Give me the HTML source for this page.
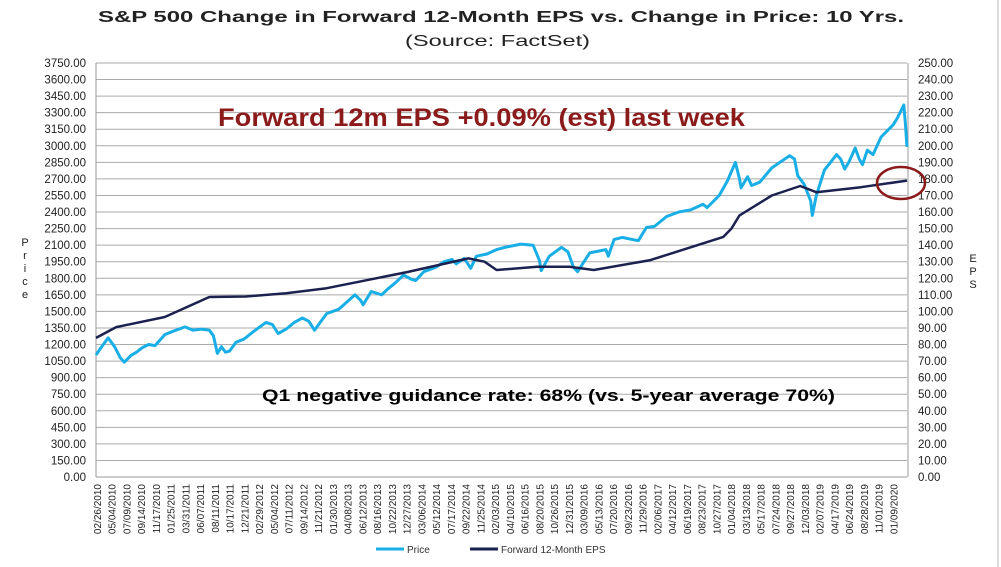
<!DOCTYPE html>
<html><head><meta charset="utf-8"><style>
body{margin:0;background:#fff;font-family:"Liberation Sans",sans-serif}
svg{display:block}
</style></head><body>
<svg id="c" width="1001" height="567" xmlns="http://www.w3.org/2000/svg">
<text x="98" y="22" textLength="806" lengthAdjust="spacingAndGlyphs" font-size="16" font-weight="bold" fill="#222">S&amp;P 500 Change in Forward 12-Month EPS vs. Change in Price: 10 Yrs.</text>
<text x="405" y="46" textLength="185" lengthAdjust="spacingAndGlyphs" font-size="16" fill="#222">(Source: FactSet)</text>
<line x1="998" y1="0" x2="998" y2="567" stroke="#bbb"/>
<g id="grid"></g>
<g id="axes"></g>
<g id="series"></g>
<text x="218" y="126" textLength="527" lengthAdjust="spacingAndGlyphs" font-size="25" font-weight="bold" fill="#8b1a1a">Forward 12m EPS +0.09% (est) last week</text>
<text x="262" y="401" textLength="573" lengthAdjust="spacingAndGlyphs" font-size="17" font-weight="bold" fill="#000">Q1 negative guidance rate: 68% (vs. 5-year average 70%)</text>
<ellipse cx="901" cy="183" rx="24" ry="16" fill="none" stroke="#8b1a1a" stroke-width="2.5"/>
<text font-size="11" fill="#222" text-anchor="middle"><tspan x="25" y="246">P</tspan><tspan x="25" y="259">r</tspan><tspan x="25" y="272">i</tspan><tspan x="25" y="285">c</tspan><tspan x="25" y="298">e</tspan></text>
<text font-size="11" fill="#222" text-anchor="middle"><tspan x="973" y="262">E</tspan><tspan x="973" y="275">P</tspan><tspan x="973" y="288">S</tspan></text>
<g>
<line x1="376" y1="549" x2="404" y2="549" stroke="#1aaee6" stroke-width="3"/>
<text x="407" y="553" font-size="10" fill="#333">Price</text>
<line x1="470" y1="549" x2="498" y2="549" stroke="#1c2250" stroke-width="3"/>
<text x="501" y="553" font-size="10" fill="#333">Forward 12-Month EPS</text>
</g>
</svg>
<script>
const xLabels=["02/26/2010","05/04/2010","07/09/2010","09/14/2010","11/17/2010","01/25/2011","03/31/2011","06/07/2011","08/11/2011","10/17/2011","12/21/2011","02/29/2012","05/04/2012","07/11/2012","09/14/2012","11/21/2012","01/30/2013","04/08/2013","06/12/2013","08/16/2013","10/22/2013","12/27/2013","03/06/2014","05/12/2014","07/17/2014","09/22/2014","11/25/2014","02/03/2015","04/10/2015","06/16/2015","08/20/2015","10/26/2015","12/31/2015","03/09/2016","05/13/2016","07/20/2016","09/23/2016","11/29/2016","02/06/2017","04/12/2017","06/19/2017","08/23/2017","10/27/2017","01/04/2018","03/13/2018","05/17/2018","07/24/2018","09/27/2018","12/03/2018","02/07/2019","04/17/2019","06/24/2019","08/28/2019","11/01/2019","01/09/2020"];
const leftTicks=[0,150,300,450,600,750,900,1050,1200,1350,1500,1650,1800,1950,2100,2250,2400,2550,2700,2850,3000,3150,3300,3450,3600,3750];
const rightTicks=[0,10,20,30,40,50,60,70,80,90,100,110,120,130,140,150,160,170,180,190,200,210,220,230,240,250];
const priceDates=[2010.15,2010.22,2010.3,2010.38,2010.45,2010.5,2010.58,2010.65,2010.72,2010.8,2010.88,2011.0,2011.1,2011.25,2011.35,2011.45,2011.55,2011.6,2011.65,2011.7,2011.75,2011.8,2011.88,2011.98,2012.1,2012.25,2012.33,2012.4,2012.5,2012.6,2012.7,2012.78,2012.85,2012.92,2013.0,2013.15,2013.35,2013.42,2013.45,2013.55,2013.68,2013.75,2013.85,2013.95,2014.05,2014.1,2014.2,2014.35,2014.45,2014.55,2014.6,2014.7,2014.78,2014.85,2014.98,2015.1,2015.2,2015.4,2015.55,2015.63,2015.65,2015.75,2015.9,2015.98,2016.05,2016.1,2016.25,2016.45,2016.48,2016.55,2016.65,2016.85,2016.95,2017.05,2017.2,2017.35,2017.5,2017.65,2017.7,2017.85,2017.95,2018.05,2018.1,2018.12,2018.2,2018.25,2018.35,2018.5,2018.72,2018.78,2018.82,2018.9,2018.98,2019.0,2019.05,2019.15,2019.3,2019.35,2019.4,2019.45,2019.53,2019.58,2019.62,2019.68,2019.75,2019.85,2020.0,2020.05,2020.13,2020.15,2020.17];
const priceValues=[1105,1180,1260,1180,1080,1040,1100,1130,1170,1200,1190,1290,1320,1360,1330,1340,1330,1280,1120,1180,1130,1140,1220,1250,1320,1400,1380,1300,1340,1400,1440,1410,1330,1400,1480,1520,1650,1600,1560,1680,1650,1700,1760,1830,1790,1780,1860,1900,1950,1970,1930,1980,1890,2000,2020,2060,2080,2110,2100,1960,1870,2000,2080,2040,1900,1860,2030,2060,2000,2150,2170,2140,2260,2270,2360,2400,2420,2470,2440,2550,2680,2850,2700,2620,2720,2640,2670,2800,2910,2880,2730,2650,2500,2370,2550,2780,2920,2880,2790,2850,2980,2880,2830,2960,2920,3080,3190,3250,3370,3200,2990];
const epsDates=[2010.15,2010.4,2011.0,2011.55,2012.0,2012.5,2013.0,2014.0,2014.75,2014.95,2015.1,2015.6,2016.0,2016.3,2017.0,2017.9,2018.0,2018.1,2018.5,2018.85,2019.05,2019.6,2020.17];
const epsValues=[84,90.5,96.6,108.7,109,111,114,123.8,132,130,125,127,127,125,131,145,150,158,170,175.7,172,175,179];
const L=96,R=907,T=63,B=477,D0=2010.15,D1=2020.17;
const xs=d=>L+(d-D0)/(D1-D0)*(R-L);
const yl=v=>B-v/3750*(B-T);
const yr=v=>B-v/250*(B-T);
const NS="http://www.w3.org/2000/svg";
function mk(tag,attrs,parent){const e=document.createElementNS(NS,tag);for(const k in attrs)e.setAttribute(k,attrs[k]);document.getElementById(parent).appendChild(e);return e;}
leftTicks.forEach((v,i)=>{
 const y=yl(v);
 const g=mk('line',{x1:L,x2:R,y1:y,y2:y,stroke:i===0?'#999':'#aaa','stroke-width':1},'grid');
 
 
 const t=mk('text',{x:86,y:y+4,'text-anchor':'end','font-size':11.5,fill:'#222'},'axes');
 t.textContent=v.toFixed(2);
 
 
});
rightTicks.forEach(v=>{
 const t=mk('text',{x:918,y:yr(v)+4,'font-size':11.5,fill:'#222'},'axes');
 t.textContent=v.toFixed(2);
 
 
});
const ax1=mk('line',{x1:L,x2:L,y1:T,y2:B,stroke:'#999'},'axes');


const ax2=mk('line',{x1:R+1,x2:R+1,y1:T,y2:B,stroke:'#999'},'axes');


const step=(R-L)/xLabels.length;
xLabels.forEach((s,i)=>{
 const x=L+1+i*step+4;
 const t=mk('text',{x:x,y:484,'font-size':10,fill:'#222','text-anchor':'end',transform:`rotate(-90 ${x} 484)`},'axes');
 t.textContent=s;
 
 
});
const pp=priceDates.map((d,i)=>xs(d).toFixed(1)+','+yl(priceValues[i]).toFixed(1)).join(' ');
const p=mk('polyline',{points:pp,fill:'none',stroke:'#1aaee6','stroke-width':3,'stroke-linejoin':'round'},'series');


const ep=epsDates.map((d,i)=>xs(d).toFixed(1)+','+yr(epsValues[i]).toFixed(1)).join(' ');
const e=mk('polyline',{points:ep,fill:'none',stroke:'#1c2250','stroke-width':2.5,'stroke-linejoin':'round'},'series');


</script>
</body></html>
